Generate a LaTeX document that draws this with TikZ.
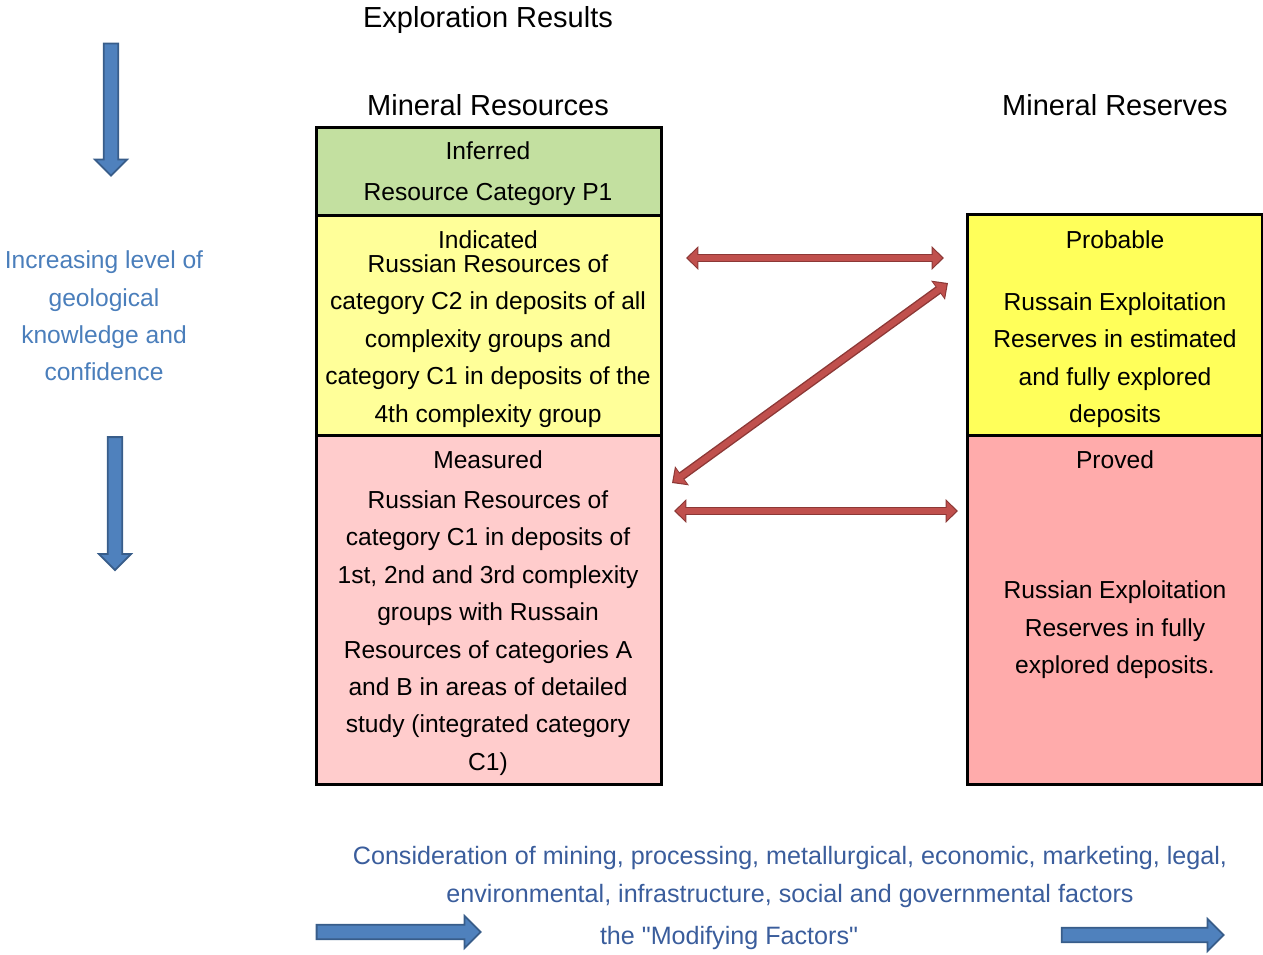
\documentclass[tikz,border=0pt]{standalone}
\usepackage{fontspec}
\setmainfont{Liberation Sans}[Ligatures=TeXOff]
\usetikzlibrary{arrows.meta,shapes.arrows}

\definecolor{infgreen}{HTML}{C3E0A0}
\definecolor{indyellow}{HTML}{FFFF99}
\definecolor{measpink}{HTML}{FFCCCC}
\definecolor{probyellow}{HTML}{FFFF5A}
\definecolor{provpink}{HTML}{FFABAB}
\definecolor{arrblue}{HTML}{4F81BD}
\definecolor{arrbluedark}{HTML}{385D8A}
\definecolor{arrred}{HTML}{C0504D}
\definecolor{arrreddark}{HTML}{8C3836}
\definecolor{sideblue}{HTML}{4A7EBB}
\definecolor{footblue}{HTML}{3A5D9C}

\tikzset{
    box/.style={draw=black, line width=1.7pt, anchor=north west, inner sep=0pt},
    boxtext/.style={align=center, font=\fontsize{14}{21.3}\selectfont},
    heading/.style={font=\fontsize{16.5}{20}\selectfont},
    sidetext/.style={align=center, text=sideblue, font=\fontsize{14}{21.3}\selectfont},
    foottext/.style={align=center, text=footblue, font=\fontsize{14.3}{21.5}\selectfont},
    blockarrow/.style={single arrow, draw=arrbluedark, fill=arrblue, line width=1pt,
        inner xsep=0pt, inner ysep=3.6pt, single arrow head extend=5pt,
        single arrow head indent=0pt},
    redarrow/.style={draw=arrred, line width=3.4pt, shorten <=1pt, shorten >=1pt,
        {Triangle[length=5.5pt,width=10.5pt]}-{Triangle[length=5.5pt,width=10.5pt]},
        preaction={draw=arrreddark, line width=5pt, shorten <=0pt, shorten >=0pt,
        {Triangle[length=7pt,width=13pt]}-{Triangle[length=7pt,width=13pt]}}}
}

\begin{document}
\begin{tikzpicture}[x=0.02cm, y=-0.02cm]
    \useasboundingbox (0,0) rectangle (1263,954);

    \node[heading] (title) at (488,20) {Exploration Results};
    \node[heading] (reshead) at (488,105) {Mineral Resources};
    \node[heading] (rsvhead) at (1115,105) {Mineral Reserves};

    \node[box, fill=infgreen, minimum width=6.9cm, minimum height=1.76cm] (inf) at (315,126) {};
    \node[box, fill=indyellow, minimum width=6.9cm, minimum height=4.4cm] (ind) at (315,214) {};
    \node[box, fill=measpink, minimum width=6.9cm, minimum height=6.98cm] (meas) at (315,434) {};
    \node[box, fill=probyellow, minimum width=5.9cm, minimum height=4.42cm] (prob) at (966,213) {};
    \node[box, fill=provpink, minimum width=5.9cm, minimum height=6.98cm] (prov) at (966,434) {};

    \node[boxtext] (inftext) at (488,174) {Inferred\\[2pt]Resource Category P1};
    \node[boxtext] (indhead) at (488,240) {Indicated};
    \node[boxtext] (indtext) at (488,341) {Russian Resources of\\category C2 in deposits of all\\complexity groups and\\category C1 in deposits of the\\4th complexity group};
    \node[boxtext] (meashead) at (488,460) {Measured};
    \node[boxtext] (meastext) at (488,633) {Russian Resources of\\category C1 in deposits of\\1st, 2nd and 3rd complexity\\groups with Russain\\Resources of categories A\\and B in areas of detailed\\study (integrated category\\C1)};
    \node[boxtext] (probhead) at (1115,240) {Probable};
    \node[boxtext] (probtext) at (1115,360) {Russain Exploitation\\Reserves in estimated\\and fully explored\\deposits};
    \node[boxtext] (provhead) at (1115,460) {Proved};
    \node[boxtext] (provtext) at (1115,630) {Russian Exploitation\\Reserves in fully\\explored deposits.};

    \node[sidetext] (side) at (104,316) {Increasing level of\\geological\\knowledge and\\confidence};

    \node[foottext] (foot) at (790,877) {Consideration of mining, processing, metallurgical, economic, marketing, legal,\\environmental, infrastructure, social and governmental factors};
    \node[foottext] (modif) at (729,938) {the "Modifying Factors"};

    \node[blockarrow, minimum height=2.64cm, rotate=-90] (downtop) at (111,106) {};
    \node[blockarrow, minimum height=2.66cm, rotate=-90] (downbot) at (115,500) {};
    \node[blockarrow, minimum height=3.28cm] (rightl) at (395,932) {};
    \node[blockarrow, minimum height=3.24cm] (rightr) at (1139,935) {};

    \coordinate (indout) at (686,258);
    \coordinate (probin) at (944,258);
    \coordinate (measout) at (672,483);
    \coordinate (probcorner) at (948,283);
    \coordinate (measout2) at (674,511);
    \coordinate (provin) at (958,511);

    \draw[redarrow] (indout) -- (probin);
    \draw[redarrow] (measout) -- (probcorner);
    \draw[redarrow] (measout2) -- (provin);
\end{tikzpicture}
\end{document}
